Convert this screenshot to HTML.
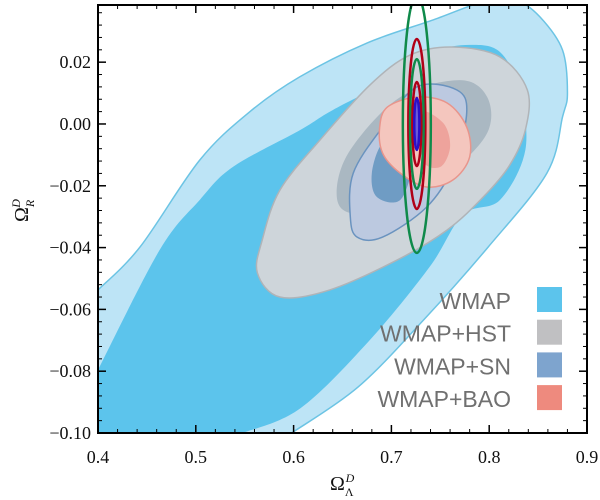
<!DOCTYPE html>
<html><head><meta charset="utf-8"><style>
body{margin:0;background:#fff}
svg{display:block}
.tk{font-family:"Liberation Serif",serif;font-size:18px;fill:#111}
.lg{font-family:"Liberation Sans",sans-serif;font-size:23px;fill:#707070}
</style></head><body>
<svg id="chart" width="600" height="500" xmlns="http://www.w3.org/2000/svg">
<defs><clipPath id="clip"><rect x="98" y="5" width="489" height="428"/></clipPath></defs>
<g id="plot" clip-path="url(#clip)"></g>
<g id="axes"></g>
<g id="legend"></g>
<text x="330" y="490" class="tk" style="font-size:20px">Ω<tspan font-size="12" dy="6">Λ</tspan><tspan font-size="12" font-style="italic" dy="-14" dx="-8">D</tspan></text>
<text transform="translate(28,222) rotate(-90)" class="tk" style="font-size:20px">Ω<tspan font-size="12" font-style="italic" dy="6">R</tspan><tspan font-size="12" font-style="italic" dy="-14" dx="-8">D</tspan></text>
</svg>
<script>
const xTicks=[0.4,0.5,0.6,0.7,0.8,0.9];
const xTickLabels=["0.4","0.5","0.6","0.7","0.8","0.9"];
const yTicks=[-0.10,-0.08,-0.06,-0.04,-0.02,0.00,0.02];
const yTickLabels=["−0.10","−0.08","−0.06","−0.04","−0.02","0.00","0.02"];
const wmapOuter=[[0.400,-0.0537],[0.443,-0.0398],[0.504,-0.0117],[0.555,0.0039],[0.606,0.0152],[0.675,0.0262],[0.743,0.0337],[0.798,0.040],[0.828,0.040],[0.852,0.0346],[0.875,0.0239],[0.880,0.0100],[0.875,0.0023],[0.859,-0.0159],[0.799,-0.0398],[0.733,-0.0634],[0.666,-0.0851],[0.598,-0.1000]];
const wmapOuterEdge=[[0.59,-0.11],[0.39,-0.11],[0.39,-0.055]];
const wmapInner=[[0.400,-0.0796],[0.463,-0.0408],[0.504,-0.0246],[0.538,-0.0139],[0.607,-0.0019],[0.640,0.0045],[0.709,0.0159],[0.743,0.0233],[0.780,0.0256],[0.811,0.0233],[0.831,0.0110],[0.837,-0.0084],[0.811,-0.0246],[0.773,-0.0294],[0.739,-0.0463],[0.678,-0.0699],[0.607,-0.0920],[0.548,-0.1000]];
const wmapInnerEdge=[[0.545,-0.11],[0.39,-0.11],[0.39,-0.081]];
const hstOuter=[[0.563,-0.0482],[0.568,-0.0375],[0.586,-0.0214],[0.627,-0.0052],[0.678,0.0126],[0.719,0.0223],[0.763,0.0249],[0.811,0.0217],[0.839,0.0110],[0.837,-0.0019],[0.821,-0.0133],[0.794,-0.0236],[0.757,-0.0343],[0.706,-0.0440],[0.637,-0.0537],[0.586,-0.0560]];
const hstInner=[[0.644,-0.0223],[0.658,-0.0084],[0.709,0.0087],[0.770,0.0142],[0.798,0.0087],[0.798,-0.0029],[0.760,-0.0159],[0.709,-0.0269],[0.658,-0.0288]];
const snOuter=[[0.658,-0.0301],[0.661,-0.0159],[0.691,-0.0010],[0.726,0.0120],[0.767,0.0110],[0.777,0.0036],[0.763,-0.0139],[0.736,-0.0269],[0.691,-0.0366],[0.665,-0.0366]];
const snInner=[[0.680,-0.0159],[0.691,-0.0061],[0.714,-0.0036],[0.721,-0.0133],[0.709,-0.0246],[0.685,-0.0236]];
const baoOuter=[[0.688,-0.0010],[0.696,0.0055],[0.726,0.0087],[0.757,0.0068],[0.777,-0.0010],[0.780,-0.0107],[0.763,-0.0181],[0.736,-0.0204],[0.709,-0.0159],[0.691,-0.0094]];
const baoInner=[[0.729,0.0036],[0.753,0.0003],[0.760,-0.0074],[0.750,-0.0139],[0.732,-0.0116]];
const ellCenter=[0.726,0.0];
const ellRx=[0.0143,0.0087,0.0069,0.0046,0.0026];
const ellRy=[0.0417,0.0275,0.0210,0.0136,0.0084];
const ellColor=["#0f8a4a","#b00018","#0f8a4a","#b00018","#2a10c8"];
const legendLabels=["WMAP","WMAP+HST","WMAP+SN","WMAP+BAO"];
const legendColors=["#5cc4ec","#c0c0c2","#7ea4ce","#ee8a7e"];

const X0=98,X1=587,Y0=433,Y1=5,xmin=0.4,xmax=0.9,ymin=-0.10,ymax=0.0385;
const sx=v=>X0+(v-xmin)/(xmax-xmin)*(X1-X0);
const sy=v=>Y0-(v-ymin)/(ymax-ymin)*(Y0-Y1);
const NS="http://www.w3.org/2000/svg";
function mk(tag,attrs,parent){const e=document.createElementNS(NS,tag);for(const k in attrs)e.setAttribute(k,attrs[k]);parent.appendChild(e);return e;}
const plot=document.getElementById('plot');
function smooth(pts,edge){
  const p=pts.map(d=>[sx(d[0]),sy(d[1])]);const n=p.length;const closed=!edge;
  let s=`M${p[0][0]},${p[0][1]}`;
  const segs=closed?n:n-1;
  const get=i=>closed?p[(i+n)%n]:p[Math.max(0,Math.min(n-1,i))];
  for(let i=0;i<segs;i++){const p0=get(i-1),p1=get(i),p2=get(i+1),p3=get(i+2);
    s+=` C${p1[0]+(p2[0]-p0[0])/6},${p1[1]+(p2[1]-p0[1])/6} ${p2[0]-(p3[0]-p1[0])/6},${p2[1]-(p3[1]-p1[1])/6} ${p2[0]},${p2[1]}`;}
  if(edge)edge.forEach(d=>{s+=` L${sx(d[0])},${sy(d[1])}`;});
  return s+'Z';
}
const regions=[[wmapOuter,wmapOuterEdge,"#bde4f6","#6cc4e4","wmap-outer-contour"],[wmapInner,wmapInnerEdge,"#5cc4ec","none","wmap-inner-contour"],
[hstOuter,null,"#ced5da","#b0b4b8","hst-outer-contour"],[hstInner,null,"#aab8c2","none","hst-inner-contour"],
[snOuter,null,"#bcc9e0","#6a93bf","sn-outer-contour"],[snInner,null,"#6f9cc4","none","sn-inner-contour"],
[baoOuter,null,"#f4c6be","#e8958c","bao-outer-contour"],[baoInner,null,"#eea39c","none","bao-inner-contour"]];
regions.forEach(r=>{
  const e=mk('path',{d:smooth(r[0],r[1]),fill:r[2],stroke:r[3],'stroke-width':1.5},plot);
  
  
});
ellRx.forEach((rx,i)=>{
  const cx=sx(ellCenter[0]),cy=sy(ellCenter[1]);
  const e=mk('ellipse',{cx:cx,cy:cy,rx:sx(xmin+rx)-X0,ry:Y0-sy(ymin+ellRy[i]),fill:i==4?"#6a5ad8":"none",stroke:ellColor[i],'stroke-width':2.5},plot);
  
  
});
const axes=document.getElementById('axes');
mk('rect',{x:X0,y:Y1,width:X1-X0,height:Y0-Y1,fill:'none',stroke:'#000','stroke-width':2},axes);
for(let i=0;i<xTicks.length;i++){
  const x=sx(xTicks[i]);
  mk('line',{x1:x,x2:x,y1:Y0,y2:Y0-8,stroke:'#000','stroke-width':1.5},axes);
  mk('line',{x1:x,x2:x,y1:Y1,y2:Y1+8,stroke:'#000','stroke-width':1.5},axes);
  const t=mk('text',{x:x,y:463,'text-anchor':'middle',class:'tk'},axes);t.textContent=xTickLabels[i];
  
  
  if(i<xTicks.length-1)for(let j=1;j<5;j++){const xm=sx(xTicks[i]+j*0.02);
    mk('line',{x1:xm,x2:xm,y1:Y0,y2:Y0-4,stroke:'#000','stroke-width':1},axes);
    mk('line',{x1:xm,x2:xm,y1:Y1,y2:Y1+4,stroke:'#000','stroke-width':1},axes);}
}
for(let i=0;i<yTicks.length;i++){
  const y=sy(yTicks[i]);
  mk('line',{x1:X0,x2:X0+8,y1:y,y2:y,stroke:'#000','stroke-width':1.5},axes);
  mk('line',{x1:X1,x2:X1-8,y1:y,y2:y,stroke:'#000','stroke-width':1.5},axes);
  const t=mk('text',{x:91,y:y+6,'text-anchor':'end',class:'tk'},axes);t.textContent=yTickLabels[i];
  
  
  for(let j=1;j<5;j++){const v=yTicks[i]+j*0.004;if(v>ymax)break;const ym=sy(v);
    mk('line',{x1:X0,x2:X0+4,y1:ym,y2:ym,stroke:'#000','stroke-width':1},axes);
    mk('line',{x1:X1,x2:X1-4,y1:ym,y2:ym,stroke:'#000','stroke-width':1},axes);}
}
const lg=document.getElementById('legend');
legendLabels.forEach((l,i)=>{
  const y=287+i*32.7;
  const r=mk('rect',{x:537,y:y,width:25,height:25,fill:legendColors[i]},lg);
  
  
  const t=mk('text',{x:511,y:y+22,'text-anchor':'end',class:'lg'},lg);t.textContent=l;
  
  
});
</script>
</body></html>
